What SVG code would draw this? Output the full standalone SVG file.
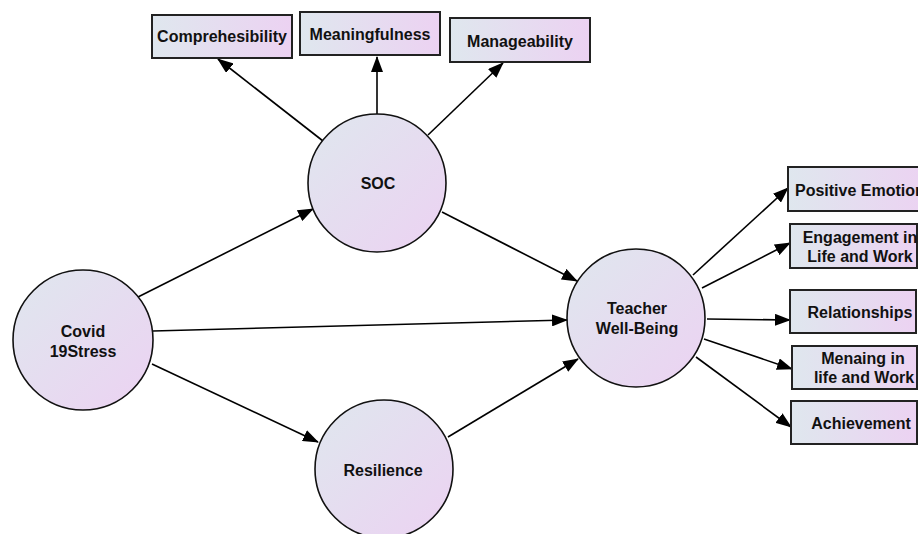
<svg xmlns="http://www.w3.org/2000/svg" width="918" height="534" viewBox="0 0 918 534">
<defs>
<linearGradient id="gc" x1="0" y1="0" x2="1" y2="1">
<stop offset="0" stop-color="#dfe7ee"/>
<stop offset="1" stop-color="#ecd2f2"/>
</linearGradient>
<linearGradient id="gb" x1="0" y1="0" x2="1" y2="0">
<stop offset="0" stop-color="#dfe7ee"/>
<stop offset="1" stop-color="#ecd2f2"/>
</linearGradient>
<marker id="ah" markerUnits="userSpaceOnUse" markerWidth="16" markerHeight="12" refX="15" refY="6" orient="auto">
<path d="M0,0 L16,6 L0,12 Z" fill="#000"/>
</marker>
<style>
.c{fill:url(#gc);stroke:#111;stroke-width:1.6}
.b{fill:url(#gb);stroke:#222;stroke-width:2}
.t{font-family:"Liberation Sans",Arial,sans-serif;font-weight:bold;font-size:16px;fill:#111;text-anchor:middle}
.l{stroke:#000;stroke-width:1.6;fill:none;marker-end:url(#ah)}
</style>
</defs>
<rect width="918" height="534" fill="#fff"/>
<g id="connectors">
<line class="l" x1="323" y1="141" x2="218" y2="59"/>
<line class="l" x1="377" y1="114" x2="377" y2="57"/>
<line class="l" x1="428" y1="135" x2="503" y2="63"/>
<line class="l" x1="138" y1="297" x2="313" y2="209"/>
<line class="l" x1="153" y1="331" x2="567" y2="320"/>
<line class="l" x1="152" y1="364" x2="318" y2="442"/>
<line class="l" x1="442" y1="212" x2="577" y2="281"/>
<line class="l" x1="448" y1="437" x2="578" y2="359"/>
<line class="l" x1="693" y1="275" x2="788" y2="188"/>
<line class="l" x1="702" y1="288" x2="790" y2="243"/>
<line class="l" x1="707" y1="319" x2="790" y2="320"/>
<line class="l" x1="704" y1="339" x2="792" y2="369"/>
<line class="l" x1="696" y1="357" x2="791" y2="427"/>
</g>
<g id="comprehesibility"><rect class="b" x="152" y="15" width="140" height="43"/><text class="t" x="222" y="42">Comprehesibility</text></g>
<g id="meaningfulness"><rect class="b" x="300" y="12" width="140" height="43"/><text class="t" x="370" y="40">Meaningfulness</text></g>
<g id="manageability"><rect class="b" x="450" y="18" width="140" height="44"/><text class="t" x="520" y="47">Manageability</text></g>
<g id="soc"><circle class="c" cx="377" cy="183" r="69"/><text class="t" x="378" y="189">SOC</text></g>
<g id="covid"><circle class="c" cx="83" cy="340" r="70"/><text class="t" x="83" y="337">Covid</text><text class="t" x="83" y="357">19Stress</text></g>
<g id="resilience"><circle class="c" cx="384" cy="469" r="69"/><text class="t" x="383" y="476">Resilience</text></g>
<g id="teacher"><circle class="c" cx="636" cy="318" r="69"/><text class="t" x="637" y="314">Teacher</text><text class="t" x="637" y="334">Well-Being</text></g>
<g id="positive"><rect class="b" x="788" y="167" width="140" height="44"/><text class="t" x="795" y="196" style="text-anchor:start">Positive Emotion</text></g>
<g id="engagement"><rect class="b" x="790" y="224" width="127" height="44"/><text class="t" x="860" y="243">Engagement in</text><text class="t" x="860" y="262">Life and Work</text></g>
<g id="relationships"><rect class="b" x="790" y="290" width="126" height="43"/><text class="t" x="860" y="318">Relationships</text></g>
<g id="menaing"><rect class="b" x="792" y="346" width="125" height="43"/><text class="t" x="863" y="364">Menaing in</text><text class="t" x="864" y="383">life and Work</text></g>
<g id="achievement"><rect class="b" x="791" y="401" width="126" height="43"/><text class="t" x="861" y="429">Achievement</text></g>
</svg>
